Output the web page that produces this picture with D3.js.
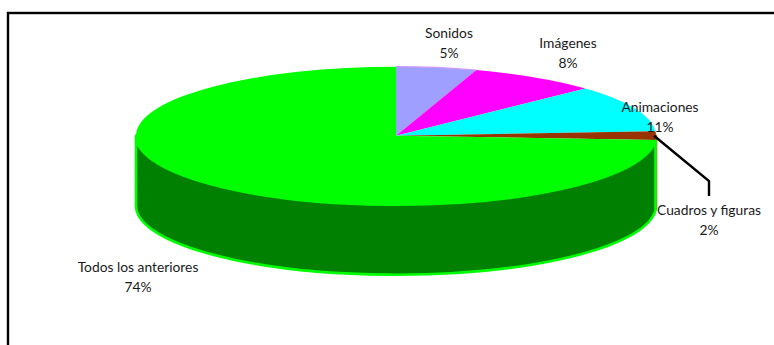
<!DOCTYPE html>
<html>
<head>
<meta charset="utf-8">
<script src="https://cdn.jsdelivr.net/npm/d3@7"></script>
<style>
html,body{margin:0;padding:0;background:#fff;overflow:hidden}
svg{display:block}
text{font-family:Lato,"Open Sans",sans-serif;font-size:13.8px;fill:#1a1a1a;text-anchor:middle}
</style>
</head>
<body>
<svg id="chart" width="774" height="345"></svg>
<script>
// Survey shares, clockwise from twelve o'clock
const categories = ["Sonidos", "Imágenes", "Animaciones", "Cuadros y figuras", "Todos los anteriores"];
const shares = [5, 8, 11, 2, 74];
const topColors = ["#9f9fff", "#ff00ff", "#00ffff", "#993300", "#00ff00"];
const wallColors = ["#6f6fb3", "#b300b3", "#00b3b3", "#993300", "#008000"];
const wallEdges = ["#cc99ff", "#ff00ff", "#00ffff", "#b5652f", "#00ff00"];
const labelCenters = [[449, 33], [568, 43], [660, 107], [709, 210], [138, 267]];

const cx = 396, cy = 135.7, rx = 260, ry = 69, depth = 70;
const svg = d3.select("#chart");

// Chart frame; its right and bottom sides run past the page edge
svg.append("rect")
  .attr("x", 8).attr("y", 13).attr("width", 800).attr("height", 400)
  .attr("fill", "#fff").attr("stroke", "#000").attr("stroke-width", 2.4);

const slices = d3.pie().sort(null).startAngle(0).endAngle(2 * Math.PI)(shares);
const px = a => cx + rx * Math.sin(a);
const py = a => cy - ry * Math.cos(a);

// Outer wall: only the part of each slice that faces the viewer
const wall = slices.map((s, i) => {
  const a0 = Math.max(s.startAngle, Math.PI / 2);
  const a1 = Math.min(s.endAngle, 3 * Math.PI / 2);
  if (a1 <= a0) return null;
  const large = a1 - a0 > Math.PI ? 1 : 0;
  const arcTo = (a, dy, sweep) => `A${rx},${ry} 0 ${large} ${sweep} ${px(a)},${py(a) + dy}`;
  return { i, d: `M${px(a0)},${py(a0)} ${arcTo(a1, 0, 1)} L${px(a1)},${py(a1) + depth} ${arcTo(a0, depth, 0)} Z` };
}).filter(Boolean);

svg.append("g").selectAll("path").data(wall).join("path")
  .attr("d", w => w.d)
  .attr("fill", w => wallColors[w.i])
  .attr("stroke", w => wallEdges[w.i])
  .attr("stroke-width", 2.6)
  .attr("stroke-linejoin", "round");

// Top face: circular sectors flattened into the ellipse
const arc = d3.arc().innerRadius(0).outerRadius(rx);
svg.append("g")
  .attr("transform", `translate(${cx},${cy}) scale(1,${ry / rx})`)
  .selectAll("path").data(slices).join("path")
  .attr("d", arc)
  .attr("fill", (s, i) => topColors[i]);

// Thin lighter rim along the back of the first slice
svg.append("path")
  .attr("d", `M${px(0)},${py(0)} A${rx},${ry} 0 0 1 ${px(slices[0].endAngle)},${py(slices[0].endAngle)}`)
  .attr("fill", "none").attr("stroke", wallEdges[0]).attr("stroke-width", 1.2);

// Leader from the small slice to its label
const leaderAngle = (slices[3].startAngle + slices[3].endAngle) / 2;
svg.append("path")
  .attr("d", d3.line()([[px(leaderAngle) - 2, py(leaderAngle)], [709, 181], [709, 196]]))
  .attr("fill", "none").attr("stroke", "#000").attr("stroke-width", 2.4);

// Two-line labels: name above, share below
const labels = svg.append("g").selectAll("g").data(categories).join("g")
  .attr("transform", (c, i) => `translate(${labelCenters[i][0]},${labelCenters[i][1]})`);
labels.append("text").attr("dy", "0.35em").text(c => c);
labels.append("text").attr("y", 20).attr("dy", "0.35em").text((c, i) => `${shares[i]}%`);
</script>
</body>
</html>
